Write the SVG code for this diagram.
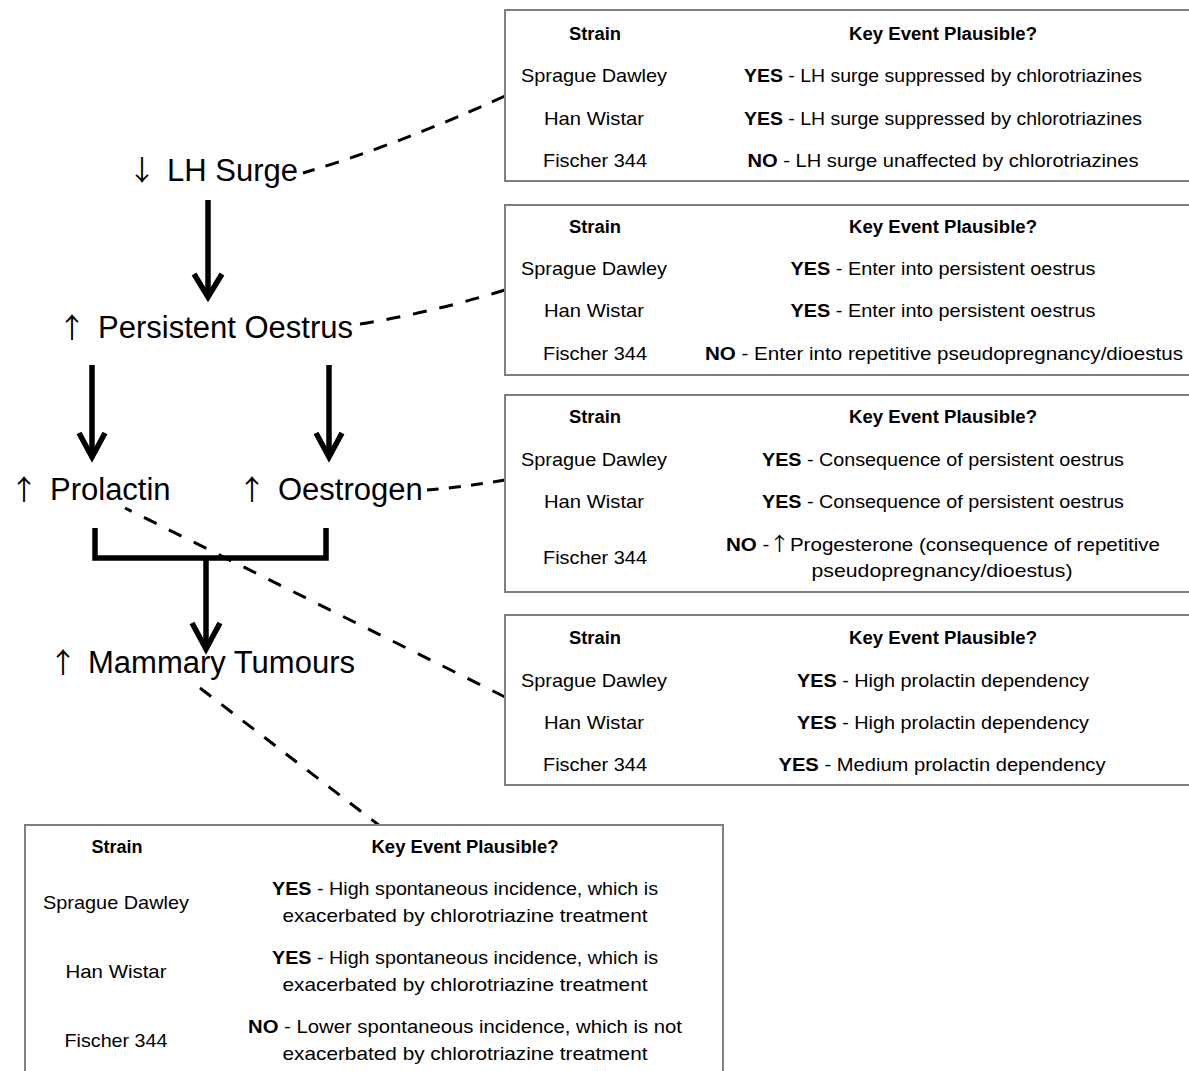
<svg xmlns="http://www.w3.org/2000/svg" width="1189" height="1071" viewBox="0 0 1189 1071">
<style>
.lbl{font-family:"Liberation Sans",Arial,sans-serif;font-size:31px;fill:#000}
.sym{font-family:"Noto Sans CJK SC","DejaVu Sans",sans-serif;font-size:28px;fill:#000;text-anchor:middle}
.box{fill:#fff;stroke:#7f7f7f;stroke-width:2}
.th{font-family:"Liberation Sans",Arial,sans-serif;font-size:18px;font-weight:bold;fill:#000;text-anchor:middle}
.td{font-family:"Liberation Sans",Arial,sans-serif;font-size:19px;fill:#000;text-anchor:middle}
.b{font-weight:bold}
.ar{font-family:"Noto Sans CJK SC","DejaVu Sans",sans-serif}
.solid{fill:none;stroke:#000;stroke-width:5.5;stroke-linecap:butt}
.head{fill:none;stroke:#000;stroke-width:5.5;stroke-linejoin:miter;stroke-linecap:butt}
.dash{fill:none;stroke:#000;stroke-width:3;stroke-dasharray:14 13}
</style>
<rect width="1189" height="1071" fill="#fff"/>

<g id="connectors">
  <path class="solid" d="M208,200 V294"/>
  <path class="head" d="M194,274 L208,297 L222,274"/>
  <path class="solid" d="M92,365 V454"/>
  <path class="head" d="M79,433 L92,457 L105,433"/>
  <path class="solid" d="M329,365 V454"/>
  <path class="head" d="M316,433 L329,457 L342,433"/>
  <path class="solid" d="M95,528 V558 H326 V528"/>
  <path class="solid" d="M206,558 V646"/>
  <path class="head" d="M192,623 L206,649 L220,623"/>
  <path class="dash" style="stroke-dasharray:14 11.5" d="M505,96 Q395,146 303,173"/>
  <path class="dash" d="M360,324 Q430,313 505,290"/>
  <path class="dash" style="stroke-dasharray:12 10.3" d="M505,480 Q465,487 427,490"/>
  <path class="dash" style="stroke-dasharray:14 13.8" d="M505,697 L125,508"/>
  <path class="dash" d="M200,688 L380,826"/>
</g>

<g id="node-lh-surge">
  <text class="sym" x="142" y="181">↓</text>
  <text class="lbl" x="167" y="181">LH Surge</text>
</g>
<g id="node-persistent-oestrus">
  <text class="sym" x="72" y="338">↑</text>
  <text class="lbl" x="98" y="338">Persistent Oestrus</text>
</g>
<g id="node-prolactin">
  <text class="sym" x="24" y="500">↑</text>
  <text class="lbl" x="50" y="500">Prolactin</text>
</g>
<g id="node-oestrogen">
  <text class="sym" x="252" y="500">↑</text>
  <text class="lbl" x="278" y="500">Oestrogen</text>
</g>
<g id="node-mammary-tumours">
  <text class="sym" x="63" y="673">↑</text>
  <text class="lbl" x="88" y="673">Mammary Tumours</text>
</g>

<g id="table-lh-surge">
  <rect class="box" x="505" y="10" width="720" height="171"/>
  <text class="th" x="595" y="40" textLength="52" lengthAdjust="spacingAndGlyphs">Strain</text>
  <text class="th" x="943" y="40" textLength="188" lengthAdjust="spacingAndGlyphs">Key Event Plausible?</text>
  <text class="td" x="594" y="82" textLength="146" lengthAdjust="spacingAndGlyphs">Sprague Dawley</text>
  <text class="td" x="943" y="82" textLength="398" lengthAdjust="spacingAndGlyphs"><tspan class="b">YES</tspan> - LH surge suppressed by chlorotriazines</text>
  <text class="td" x="594" y="125" textLength="100" lengthAdjust="spacingAndGlyphs">Han Wistar</text>
  <text class="td" x="943" y="125" textLength="398" lengthAdjust="spacingAndGlyphs"><tspan class="b">YES</tspan> - LH surge suppressed by chlorotriazines</text>
  <text class="td" x="595" y="167" textLength="104" lengthAdjust="spacingAndGlyphs">Fischer 344</text>
  <text class="td" x="943" y="167" textLength="391" lengthAdjust="spacingAndGlyphs"><tspan class="b">NO</tspan> - LH surge unaffected by chlorotriazines</text>
</g>

<g id="table-persistent-oestrus">
  <rect class="box" x="505" y="205" width="720" height="170"/>
  <text class="th" x="595" y="233" textLength="52" lengthAdjust="spacingAndGlyphs">Strain</text>
  <text class="th" x="943" y="233" textLength="188" lengthAdjust="spacingAndGlyphs">Key Event Plausible?</text>
  <text class="td" x="594" y="275" textLength="146" lengthAdjust="spacingAndGlyphs">Sprague Dawley</text>
  <text class="td" x="943" y="275" textLength="305" lengthAdjust="spacingAndGlyphs"><tspan class="b">YES</tspan> - Enter into persistent oestrus</text>
  <text class="td" x="594" y="317" textLength="100" lengthAdjust="spacingAndGlyphs">Han Wistar</text>
  <text class="td" x="943" y="317" textLength="305" lengthAdjust="spacingAndGlyphs"><tspan class="b">YES</tspan> - Enter into persistent oestrus</text>
  <text class="td" x="595" y="360" textLength="104" lengthAdjust="spacingAndGlyphs">Fischer 344</text>
  <text class="td" x="944" y="360" textLength="478" lengthAdjust="spacingAndGlyphs"><tspan class="b">NO</tspan> - Enter into repetitive pseudopregnancy/dioestus</text>
</g>

<g id="table-oestrogen">
  <rect class="box" x="505" y="395" width="720" height="197"/>
  <text class="th" x="595" y="423" textLength="52" lengthAdjust="spacingAndGlyphs">Strain</text>
  <text class="th" x="943" y="423" textLength="188" lengthAdjust="spacingAndGlyphs">Key Event Plausible?</text>
  <text class="td" x="594" y="466" textLength="146" lengthAdjust="spacingAndGlyphs">Sprague Dawley</text>
  <text class="td" x="943" y="466" textLength="362" lengthAdjust="spacingAndGlyphs"><tspan class="b">YES</tspan> - Consequence of persistent oestrus</text>
  <text class="td" x="594" y="508" textLength="100" lengthAdjust="spacingAndGlyphs">Han Wistar</text>
  <text class="td" x="943" y="508" textLength="362" lengthAdjust="spacingAndGlyphs"><tspan class="b">YES</tspan> - Consequence of persistent oestrus</text>
  <text class="td" x="595" y="564" textLength="104" lengthAdjust="spacingAndGlyphs">Fischer 344</text>
  <text class="td" x="943" y="551" textLength="434" lengthAdjust="spacingAndGlyphs"><tspan class="b">NO</tspan> -<tspan class="ar">↑</tspan>Progesterone (consequence of repetitive</text>
  <text class="td" x="942" y="577" textLength="261" lengthAdjust="spacingAndGlyphs">pseudopregnancy/dioestus)</text>
</g>

<g id="table-prolactin">
  <rect class="box" x="505" y="615" width="720" height="170"/>
  <text class="th" x="595" y="644" textLength="52" lengthAdjust="spacingAndGlyphs">Strain</text>
  <text class="th" x="943" y="644" textLength="188" lengthAdjust="spacingAndGlyphs">Key Event Plausible?</text>
  <text class="td" x="594" y="687" textLength="146" lengthAdjust="spacingAndGlyphs">Sprague Dawley</text>
  <text class="td" x="943" y="687" textLength="292" lengthAdjust="spacingAndGlyphs"><tspan class="b">YES</tspan> - High prolactin dependency</text>
  <text class="td" x="594" y="729" textLength="100" lengthAdjust="spacingAndGlyphs">Han Wistar</text>
  <text class="td" x="943" y="729" textLength="292" lengthAdjust="spacingAndGlyphs"><tspan class="b">YES</tspan> - High prolactin dependency</text>
  <text class="td" x="595" y="771" textLength="104" lengthAdjust="spacingAndGlyphs">Fischer 344</text>
  <text class="td" x="942" y="771" textLength="327" lengthAdjust="spacingAndGlyphs"><tspan class="b">YES</tspan> - Medium prolactin dependency</text>
</g>

<g id="table-mammary-tumours">
  <rect class="box" x="25" y="825" width="698" height="270"/>
  <text class="th" x="117" y="853" textLength="51" lengthAdjust="spacingAndGlyphs">Strain</text>
  <text class="th" x="465" y="853" textLength="187" lengthAdjust="spacingAndGlyphs">Key Event Plausible?</text>
  <text class="td" x="116" y="909" textLength="146" lengthAdjust="spacingAndGlyphs">Sprague Dawley</text>
  <text class="td" x="465" y="895" textLength="386" lengthAdjust="spacingAndGlyphs"><tspan class="b">YES</tspan> - High spontaneous incidence, which is</text>
  <text class="td" x="465" y="922" textLength="365" lengthAdjust="spacingAndGlyphs">exacerbated by chlorotriazine treatment</text>
  <text class="td" x="116" y="978" textLength="101" lengthAdjust="spacingAndGlyphs">Han Wistar</text>
  <text class="td" x="465" y="964" textLength="386" lengthAdjust="spacingAndGlyphs"><tspan class="b">YES</tspan> - High spontaneous incidence, which is</text>
  <text class="td" x="465" y="991" textLength="365" lengthAdjust="spacingAndGlyphs">exacerbated by chlorotriazine treatment</text>
  <text class="td" x="116" y="1047" textLength="103" lengthAdjust="spacingAndGlyphs">Fischer 344</text>
  <text class="td" x="465" y="1033" textLength="434" lengthAdjust="spacingAndGlyphs"><tspan class="b">NO</tspan> - Lower spontaneous incidence, which is not</text>
  <text class="td" x="465" y="1060" textLength="365" lengthAdjust="spacingAndGlyphs">exacerbated by chlorotriazine treatment</text>
</g>
</svg>
